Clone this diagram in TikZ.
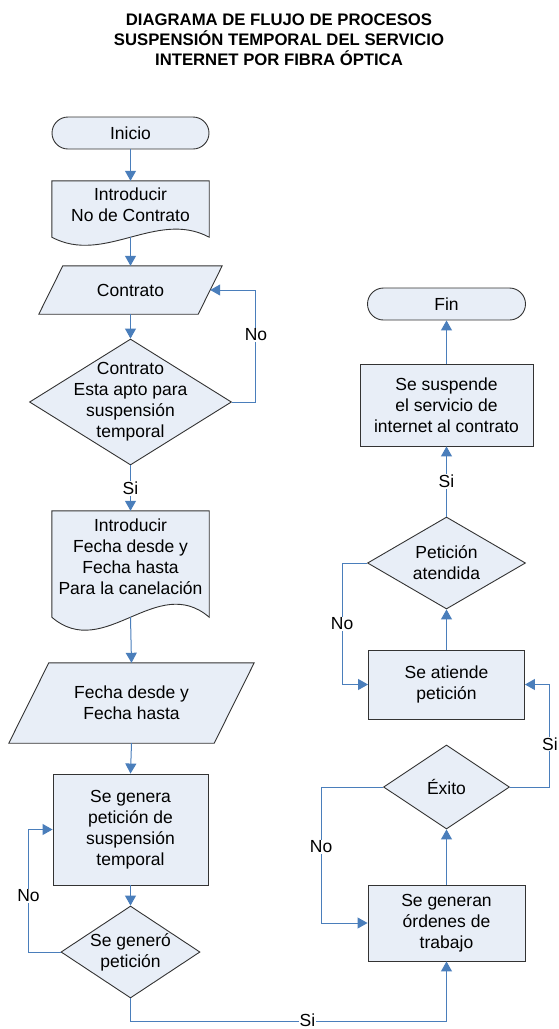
\documentclass[tikz,border=0pt]{standalone}
\usepackage{fontspec}
\setmainfont{Liberation Sans}
\usepackage{tikz}
\usetikzlibrary{calc, arrows.meta, shapes.geometric, backgrounds}
\definecolor{lineBlue}{HTML}{4A7EBB}
\definecolor{shapeFill}{HTML}{E8EEF7}
\definecolor{shapeLine}{HTML}{333333}

\tikzset{
    txt/.style={font=\fontsize{17.5}{21}\selectfont, align=center, text=black},
    outline/.style={draw=shapeLine, line width=0.9pt, fill=shapeFill},
    terminal/.style={outline, txt, rectangle, rounded corners=16pt,
        minimum width=157, minimum height=32, inner sep=0pt},
    procbox/.style={outline, txt, rectangle, inner sep=0pt},
    decision/.style={outline, diamond, inner sep=0pt},
    plainbox/.style={txt, rectangle, inner sep=0pt},
    lbl/.style={txt, inner sep=0pt},
    conn/.style={draw=lineBlue, line width=1pt,
        -{Triangle[length=10pt, width=11pt]}},
    tag/.style={txt, fill=white, inner sep=1pt}
}

\begin{document}
\begin{tikzpicture}[x=1pt, y=-1pt]
    \useasboundingbox (0,0) rectangle (558,1029);

    % title
    \node[font=\bfseries\fontsize{16.7}{20}\selectfont, align=center] (title) at (279,40)
        {DIAGRAMA DE FLUJO DE PROCESOS\\SUSPENSIÓN TEMPORAL DEL SERVICIO\\INTERNET POR FIBRA ÓPTICA};

    % left column
    \node[terminal] (ini) at (130.5,133) {Inicio};
    \node[plainbox, minimum width=157, minimum height=56,
        label={[lbl, yshift=4pt]center:{Introducir\\No de Contrato}}] (doc1) at (130.5,209) {};
    \node[plainbox, minimum width=159, minimum height=48] (para1) at (130.5,290) {Contrato};
    \node[decision, minimum width=202, minimum height=126,
        label={[lbl]center:{Contrato\\Esta apto para\\suspensión\\temporal}}] (dec1) at (130.5,402) {};
    \node[plainbox, minimum width=157, minimum height=106,
        label={[lbl, yshift=7.5pt]center:{Introducir\\Fecha desde y\\Fecha hasta\\Para la canelación}}] (doc2) at (130.5,564) {};
    \node[plainbox, minimum width=205, minimum height=80] (para2) at (131.5,703) {Fecha desde y\\Fecha hasta};
    \node[procbox, minimum width=155, minimum height=111] (gen) at (130.5,829.5)
        {Se genera\\petición de\\suspensión\\temporal};
    \node[decision, minimum width=139, minimum height=92,
        label={[lbl]center:{Se generó\\petición}}] (dec2) at (130.5,952) {};

    % right column
    \node[procbox, minimum width=157, minimum height=76] (ord) at (446.5,923)
        {Se generan\\órdenes de\\trabajo};
    \node[decision, minimum width=126, minimum height=84,
        label={[lbl]center:{Éxito}}] (exito) at (446.5,787) {};
    \node[procbox, minimum width=156, minimum height=69] (atiende) at (446.5,684.5)
        {Se atiende\\petición};
    \node[decision, minimum width=158, minimum height=92,
        label={[lbl]center:{Petición\\atendida}}] (dec4) at (446.5,563) {};
    \node[procbox, minimum width=173, minimum height=82] (susp) at (446.5,405)
        {Se suspende\\el servicio de\\internet al contrato};
    \node[terminal, minimum width=158] (fin) at (446.5,304) {Fin};

    % document and input shapes behind their texts
    \begin{scope}[on background layer]
        \draw[outline] (doc1.south west) -- (doc1.north west) -- (doc1.north east) -- (doc1.south east)
            .. controls ($(doc1.south west)!0.667!(doc1.south east)+(0,-28)$)
            and ($(doc1.south west)!0.333!(doc1.south east)+(0,28)$) .. (doc1.south west) -- cycle;
        \draw[outline] (doc2.south west) -- (doc2.north west) -- (doc2.north east) -- (doc2.south east)
            .. controls ($(doc2.south west)!0.667!(doc2.south east)+(0,-45)$)
            and ($(doc2.south west)!0.333!(doc2.south east)+(0,45)$) .. (doc2.south west) -- cycle;
        \draw[outline] ($(para1.north west)+(12,0)$) -- ($(para1.north east)+(12,0)$)
            -- ($(para1.south east)-(12,0)$) -- ($(para1.south west)-(12,0)$) -- cycle;
        \draw[outline] ($(para2.north west)+(20,0)$) -- ($(para2.north east)+(20,0)$)
            -- ($(para2.south east)-(20,0)$) -- ($(para2.south west)-(20,0)$) -- cycle;
    \end{scope}

    % connectors
    \draw[conn] (ini) -- (doc1);
    \draw[conn] (doc1.south) -- (para1.north);
    \draw[conn] (para1.south) -- (dec1.north);
    \draw[conn] (dec1.east) -- ++(24,0) |- node[tag, pos=0.3] {No} (para1.east);
    \draw[conn] (dec1.south) -- node[tag] {Si} (doc2.north);
    \draw[conn] (doc2.south) -- (para2.north);
    \draw[conn] (para2.south) -- (gen.north);
    \draw[conn] (gen.south) -- (dec2.north);
    \draw[conn] (dec2.west) -- ++(-32,0) |- node[tag, pos=0.23] {No} (gen.west);
    \draw[conn] (dec2.south) -- ++(0,23) -| node[tag, pos=0.28, inner sep=0.5pt, yshift=1.5pt] {Si} (ord.south);
    \draw[conn] (ord.north) -- (exito.south);
    \draw[conn] (exito.west) -- ++(-62,0) |- node[tag, pos=0.22] {No} (ord.west);
    \draw[conn] (exito.east) -- ++(40,0) |- node[tag, pos=0.21] {Si} (atiende.east);
    \draw[conn] (atiende.north) -- (dec4.south);
    \draw[conn] (dec4.west) -- ++(-25,0) |- node[tag, pos=0.25] {No} (atiende.west);
    \draw[conn] (dec4.north) -- node[tag] {Si} (susp.south);
    \draw[conn] (susp.north) -- (fin.south);
\end{tikzpicture}
\end{document}
